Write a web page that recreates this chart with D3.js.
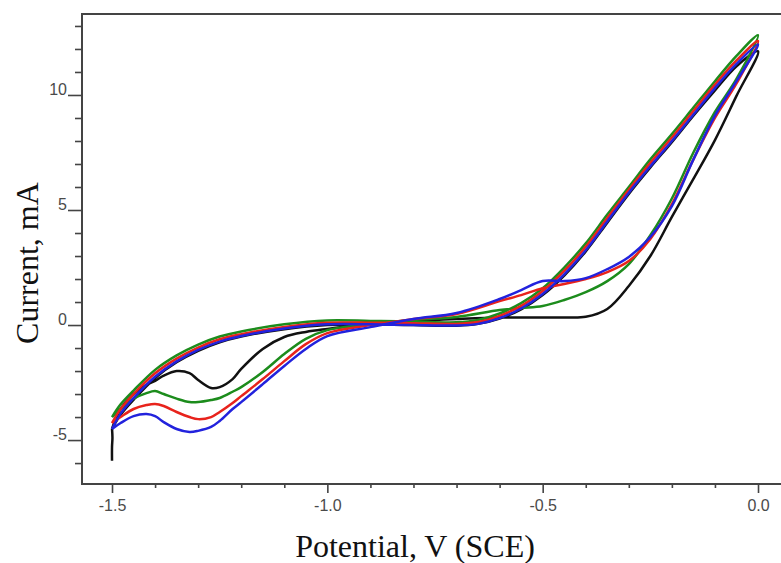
<!DOCTYPE html>
<html lang="en">
<head>
  <meta charset="UTF-8">
  <title>Cyclic voltammograms</title>
  <script src="https://d3js.org/d3.v7.min.js"></script>
  <style>
    body {
      margin: 0;
      background: #fff;
    }

    .tick-label {
      font-family: 'Liberation Sans', Arial, sans-serif;
      font-size: 16px;
      fill: #4a4a4a;
    }

    .axis-title {
      font-family: 'Liberation Serif', 'Times New Roman', serif;
      font-size: 32px;
      fill: #111;
    }
  </style>
</head>
<body>

<div class="chart"></div>

<script>
    // tick values and labels
    const xMajor = [-1.5, -1.0, -0.5, 0.0];
    const xMajorLabels = ['-1.5', '-1.0', '-0.5', '0.0'];
    const xMinor = [-1.4, -1.3, -1.2, -1.1, -0.9, -0.8, -0.7, -0.6, -0.4, -0.3, -0.2, -0.1];
    const yMajor = [-5, 0, 5, 10];
    const yMajorLabels = ['-5', '0', '5', '10'];
    const yMinor = [-6, -4, -3, -2, -1, 1, 2, 3, 4, 6, 7, 8, 9, 11, 12, 13];

    // forward scan (-1.5 V -> 0 V), potentials in V
    const fwdV = [-1.5, -1.48, -1.45, -1.42, -1.40, -1.38, -1.35, -1.32, -1.30, -1.27, -1.25, -1.22, -1.20,
      -1.15, -1.10, -1.05, -1.0, -0.9, -0.8, -0.7, -0.6, -0.55, -0.5, -0.45, -0.4, -0.35, -0.3, -0.25,
      -0.2, -0.15, -0.1, -0.05, 0.0];
    // currents in mA
    const blackFwd = [-4.5, -3.65, -3.0, -2.6, -2.43, -2.2, -2.0, -2.09, -2.39, -2.74, -2.7, -2.35, -1.91,
      -1.04, -0.52, -0.3, -0.17, 0.04, 0.17, 0.26, 0.33, 0.33, 0.33, 0.33, 0.36, 0.7, 1.7, 3.0,
      4.7, 6.35, 8.04, 9.96, 11.9];
    const greenFwd = [-4.0, -3.65, -3.2, -2.96, -2.87, -3.0, -3.2, -3.35, -3.35, -3.26, -3.17, -2.9, -2.7,
      -2.04, -1.26, -0.6, -0.22, 0.04, 0.22, 0.35, 0.65, 0.74, 0.83, 1.09, 1.43, 1.91, 2.65, 3.9,
      5.5, 7.5, 9.26, 10.7, 12.6];
    const redFwd = [-4.26, -4.0, -3.65, -3.48, -3.43, -3.52, -3.78, -4.0, -4.09, -4.0, -3.78, -3.39, -3.09,
      -2.35, -1.57, -0.83, -0.35, 0.0, 0.26, 0.48, 1.04, 1.3, 1.6, 1.78, 2.0, 2.3, 2.78, 3.74,
      5.26, 7.2, 9.0, 10.5, 12.35];
    const blueFwd = [-4.52, -4.26, -3.96, -3.87, -3.96, -4.22, -4.52, -4.65, -4.6, -4.43, -4.17, -3.65, -3.35,
      -2.57, -1.78, -1.04, -0.48, -0.09, 0.26, 0.52, 1.13, 1.52, 1.91, 1.91, 2.04, 2.43, 2.96, 3.83,
      5.17, 7.2, 9.1, 10.6, 12.2];

    // reverse scan (0 V -> -1.5 V)
    const revV = [0.0, -0.05, -0.1, -0.15, -0.2, -0.25, -0.3, -0.35, -0.4, -0.45, -0.5, -0.55, -0.6, -0.65,
      -0.7, -0.8, -0.9, -1.0, -1.1, -1.2, -1.25, -1.3, -1.35, -1.4, -1.45, -1.48, -1.5];
    const blackRev = [11.9, 11.25, 10.2, 9.1, 7.95, 6.85, 5.7, 4.45, 3.2, 2.15, 1.3, 0.68, 0.28, 0.05,
      -0.03, 0.0, 0.02, 0.0, -0.18, -0.5, -0.75, -1.12, -1.62, -2.3, -3.25, -3.9, -4.5];
    const greenRev = [12.6, 11.7, 10.6, 9.45, 8.3, 7.2, 6.0, 4.8, 3.55, 2.5, 1.6, 0.95, 0.5, 0.22,
      0.12, 0.15, 0.18, 0.2, 0.03, -0.28, -0.5, -0.85, -1.32, -1.95, -2.85, -3.45, -4.0];
    const redRev = [12.35, 11.5, 10.45, 9.3, 8.15, 7.05, 5.88, 4.65, 3.4, 2.35, 1.48, 0.83, 0.4, 0.13,
      0.05, 0.08, 0.1, 0.1, -0.08, -0.4, -0.62, -0.98, -1.46, -2.1, -3.0, -3.65, -4.26];
    const blueRev = [12.2, 11.35, 10.3, 9.15, 8.0, 6.9, 5.75, 4.5, 3.25, 2.2, 1.35, 0.72, 0.3, 0.05,
      -0.02, 0.0, 0.03, 0.03, -0.15, -0.48, -0.72, -1.08, -1.58, -2.25, -3.18, -3.85, -4.52];

    // black trace starts with a short vertical tail at -1.5 V
    const blackTailV = [-1.5, -1.5, -1.499, -1.5];
    const blackTailI = [-5.9, -5.3, -4.9, -4.5];

    const series = [
      { name: 'black', color: '#111111', fwd: blackFwd, rev: blackRev },
      { name: 'green', color: '#1c8c1c', fwd: greenFwd, rev: greenRev },
      { name: 'red', color: '#e8231c', fwd: redFwd, rev: redRev },
      { name: 'blue', color: '#2222dd', fwd: blueFwd, rev: blueRev }
    ];

    const W = 781, H = 563;
    const mLeft = 82, mTop = 14, mRight = 782, mBottom = 484;

    const x = d3.scaleLinear().domain([-1.5697, 0.0557]).range([mLeft, mRight]);
    const y = d3.scaleLinear().domain([-6.91, 13.52]).range([mBottom, mTop]);

    const svg = d3.select('.chart')
      .append('svg')
      .attr('width', W)
      .attr('height', H);

    // frame
    svg.append('path')
      .attr('d', `M${mRight},${mTop}H${mLeft}V${mBottom}H${mRight}`)
      .attr('fill', 'none')
      .attr('stroke', '#444')
      .attr('stroke-width', 2);

    // y axis ticks
    const yAxisMajor = d3.axisLeft(y).tickValues(yMajor).tickSize(14).tickFormat((d, i) => yMajorLabels[i]);
    const yAxisMinor = d3.axisLeft(y).tickValues(yMinor).tickSize(7).tickFormat('');
    const gy = svg.append('g').attr('transform', `translate(${mLeft},0)`).call(yAxisMajor);
    svg.append('g').attr('transform', `translate(${mLeft},0)`).call(yAxisMinor);

    gy.selectAll('text')
      .attr('class', 'tick-label')
      .attr('x', -15)
      .attr('dy', '-0.05em');

    // x axis ticks
    const xAxisMajor = d3.axisBottom(x).tickValues(xMajor).tickSize(9).tickFormat((d, i) => xMajorLabels[i]);
    const xAxisMinor = d3.axisBottom(x).tickValues(xMinor).tickSize(4).tickFormat('');
    const gx = svg.append('g').attr('transform', `translate(0,${mBottom})`).call(xAxisMajor);
    svg.append('g').attr('transform', `translate(0,${mBottom})`).call(xAxisMinor);

    gx.selectAll('text')
      .attr('class', 'tick-label')
      .attr('y', 16);

    svg.selectAll('.domain').remove();
    svg.selectAll('.tick line').attr('stroke', '#444').attr('stroke-width', 1.6);
    svg.selectAll('g').attr('font-family', null).attr('font-size', null);

    // curves
    const line = d3.line()
      .x(d => x(d[0]))
      .y(d => y(d[1]))
      .curve(d3.curveCatmullRom.alpha(0.5));

    const plot = svg.append('g');

    series.forEach(s => {
      const pts = fwdV.map((v, i) => [v, s.fwd[i]])
        .concat(revV.slice(1).map((v, i) => [v, s.rev[i + 1]]));
      plot.append('path')
        .attr('d', line(pts))
        .attr('fill', 'none')
        .attr('stroke', s.color)
        .attr('stroke-width', 2.5)
        .attr('stroke-linejoin', 'round');
      if (s.name === 'black') {
        plot.append('path')
          .attr('d', line(blackTailV.map((v, i) => [v, blackTailI[i]])))
          .attr('fill', 'none')
          .attr('stroke', s.color)
          .attr('stroke-width', 2.5);
      }
    });

    // axis titles
    svg.append('text')
      .attr('class', 'axis-title')
      .attr('text-anchor', 'middle')
      .attr('x', 415)
      .attr('y', 557)
      .text('Potential, V (SCE)');

    svg.append('text')
      .attr('class', 'axis-title')
      .attr('text-anchor', 'middle')
      .attr('transform', 'translate(38,263) rotate(-90)')
      .text('Current, mA');
</script>
</body>
</html>
